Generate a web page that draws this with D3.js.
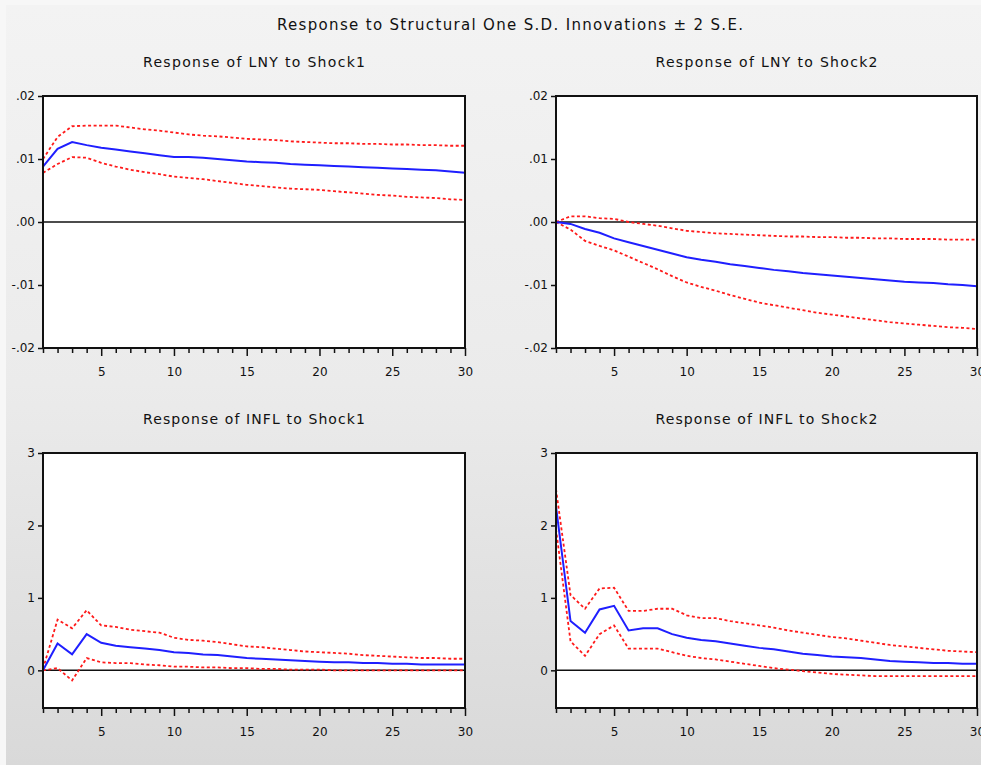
<!doctype html>
<html>
<head>
<meta charset="utf-8">
<script src="https://d3js.org/d3.v7.min.js"></script>
<style>
  body { margin: 0; background: #fff; }
  text { font-family: "DejaVu Sans", Verdana, sans-serif; fill: #111; }
</style>
</head>
<body>
<div id="chart"></div>
<script>
// periods after the shock
var periods = [1,2,3,4,5,6,7,8,9,10,11,12,13,14,15,16,17,18,19,20,21,22,23,24,25,26,27,28,29,30];

// Response of LNY to Shock1
var lnyS1 =    [.0088,.0116,.0127,.0122,.0118,.0115,.0112,.0109,.0106,.0103,.0103,.0102,.0100,.0098,.0096,.0095,.0094,.0092,.0091,.0090,.0089,.0088,.0087,.0086,.0085,.0084,.0083,.0082,.0080,.0078];
var lnyS1Hi =  [.0100,.0135,.0152,.0153,.0153,.0153,.0150,.0147,.0145,.0142,.0139,.0137,.0136,.0134,.0132,.0131,.0130,.0128,.0127,.0126,.0125,.0125,.0124,.0124,.0123,.0123,.0122,.0122,.0121,.0121];
var lnyS1Lo =  [.0078,.0092,.0103,.0102,.0094,.0088,.0083,.0079,.0076,.0072,.0070,.0068,.0065,.0062,.0059,.0057,.0055,.0053,.0052,.0051,.0049,.0047,.0045,.0043,.0042,.0040,.0039,.0038,.0036,.0035];

// Response of LNY to Shock2
var lnyS2 =    [0,-.0003,-.0011,-.0017,-.0026,-.0032,-.0038,-.0044,-.0050,-.0056,-.0060,-.0063,-.0067,-.0070,-.0073,-.0076,-.0078,-.0081,-.0083,-.0085,-.0087,-.0089,-.0091,-.0093,-.0095,-.0096,-.0097,-.0099,-.0100,-.0102];
var lnyS2Hi =  [0,.0009,.0009,.0006,.0005,.0000,-.0003,-.0006,-.0010,-.0014,-.0016,-.0018,-.0019,-.0020,-.0021,-.0022,-.0023,-.0023,-.0024,-.0024,-.0025,-.0025,-.0026,-.0026,-.0027,-.0027,-.0027,-.0028,-.0028,-.0028];
var lnyS2Lo =  [0,-.0012,-.0030,-.0038,-.0045,-.0055,-.0065,-.0075,-.0086,-.0096,-.0103,-.0109,-.0116,-.0122,-.0128,-.0132,-.0136,-.0140,-.0144,-.0147,-.0150,-.0153,-.0156,-.0159,-.0161,-.0163,-.0165,-.0167,-.0168,-.0170];

// Response of INFL to Shock1
var inflS1 =   [0,.37,.22,.50,.38,.34,.32,.30,.28,.25,.24,.22,.21,.19,.17,.16,.15,.14,.13,.12,.11,.11,.10,.10,.09,.09,.08,.08,.08,.08];
var inflS1Hi = [.02,.70,.58,.83,.62,.60,.56,.54,.52,.45,.42,.41,.39,.36,.33,.32,.30,.28,.26,.25,.24,.23,.21,.20,.19,.18,.17,.17,.16,.16];
var inflS1Lo = [0,.03,-.14,.17,.11,.10,.10,.08,.07,.05,.05,.04,.04,.03,.03,.02,.02,.01,.01,.01,0,0,0,0,0,0,0,0,0,0];

// Response of INFL to Shock2
var inflS2 =   [2.26,.68,.52,.84,.89,.55,.58,.58,.50,.45,.42,.40,.37,.34,.31,.29,.26,.23,.21,.19,.18,.17,.15,.13,.12,.11,.10,.10,.09,.09];
var inflS2Hi = [2.50,1.04,.85,1.13,1.14,.82,.82,.85,.85,.76,.72,.72,.68,.65,.62,.59,.55,.52,.49,.46,.44,.41,.38,.35,.33,.31,.29,.27,.26,.25];
var inflS2Lo = [1.95,.40,.20,.50,.62,.30,.30,.30,.25,.20,.17,.15,.12,.09,.06,.03,.01,-.01,-.03,-.05,-.06,-.07,-.08,-.08,-.08,-.08,-.08,-.08,-.08,-.08];

var lnyTicks = [.02,.01,0,-.01,-.02];
var lnyTickLabels = [".02",".01",".00","-.01","-.02"];
var inflTicks = [3,2,1,0];
var inflTickLabels = ["3","2","1","0"];
var xLabelTicks = [5,10,15,20,25,30];

var title = "Response to Structural One S.D. Innovations \u00b1 2 S.E.";

var panels = [
  {title: "Response of LNY to Shock1", mid: lnyS1, hi: lnyS1Hi, lo: lnyS1Lo, dom: [-0.02, 0.02], ticks: lnyTicks, labels: lnyTickLabels, x0: 43, x1: 465, y0: 96, y1: 348},
  {title: "Response of LNY to Shock2", mid: lnyS2, hi: lnyS2Hi, lo: lnyS2Lo, dom: [-0.02, 0.02], ticks: lnyTicks, labels: lnyTickLabels, x0: 556, x1: 977, y0: 96, y1: 348},
  {title: "Response of INFL to Shock1", mid: inflS1, hi: inflS1Hi, lo: inflS1Lo, dom: [-0.52, 3], ticks: inflTicks, labels: inflTickLabels, x0: 43, x1: 465, y0: 453, y1: 708},
  {title: "Response of INFL to Shock2", mid: inflS2, hi: inflS2Hi, lo: inflS2Lo, dom: [-0.52, 3], ticks: inflTicks, labels: inflTickLabels, x0: 556, x1: 977, y0: 453, y1: 708}
];

var W = 981, H = 765;
var svg = d3.select("#chart").append("svg")
  .attr("width", W).attr("height", H);

var defs = svg.append("defs");
var grad = defs.append("linearGradient").attr("id", "bg")
  .attr("x1", 0).attr("y1", 0).attr("x2", 0).attr("y2", 1);
grad.append("stop").attr("offset", "0%").attr("stop-color", "#f3f3f3");
grad.append("stop").attr("offset", "50%").attr("stop-color", "#ebebeb");
grad.append("stop").attr("offset", "100%").attr("stop-color", "#d9d9d9");

svg.append("rect").attr("width", W).attr("height", H).attr("fill", "#f7f7f7");
svg.append("rect").attr("x", 6).attr("y", 5).attr("width", W - 6).attr("height", H - 5).attr("fill", "url(#bg)");

svg.append("text")
  .attr("x", 277).attr("y", 30)
  .attr("textLength", 466).attr("lengthAdjust", "spacing")
  .style("font-size", "15px")
  .text(title);

panels.forEach(function(p) {
  var x = d3.scaleLinear().domain([1, 30]).range([p.x0, p.x1]);
  var y = d3.scaleLinear().domain(p.dom).range([p.y1, p.y0]);
  var g = svg.append("g");

  g.append("rect")
    .attr("x", p.x0).attr("y", p.y0)
    .attr("width", p.x1 - p.x0).attr("height", p.y1 - p.y0)
    .attr("fill", "#fff");

  // subtitle
  g.append("text")
    .attr("x", (p.x0 + p.x1) / 2 - 111).attr("y", p.y0 - 29)
    .attr("textLength", 222).attr("lengthAdjust", "spacing")
    .style("font-size", "14px")
    .text(p.title);

  // zero line
  g.append("line")
    .attr("x1", p.x0).attr("x2", p.x1)
    .attr("y1", y(0)).attr("y2", y(0))
    .attr("stroke", "#111").attr("stroke-width", 1.5);

  var line = d3.line()
    .x(function(d, i) { return x(periods[i]); })
    .y(function(d) { return y(d); });

  [p.hi, p.lo].forEach(function(band) {
    g.append("path").datum(band)
      .attr("d", line)
      .attr("fill", "none")
      .attr("stroke", "#ff1a1a")
      .attr("stroke-width", 1.8)
      .attr("stroke-dasharray", "3,2.5");
  });

  g.append("path").datum(p.mid)
    .attr("d", line)
    .attr("fill", "none")
    .attr("stroke", "#1f1fff")
    .attr("stroke-width", 2);

  // frame
  g.append("rect")
    .attr("x", p.x0).attr("y", p.y0)
    .attr("width", p.x1 - p.x0).attr("height", p.y1 - p.y0)
    .attr("fill", "none").attr("stroke", "#111").attr("stroke-width", 2);

  // y axis
  var ya = g.append("g")
    .attr("transform", "translate(" + p.x0 + ",0)")
    .call(d3.axisLeft(y).tickValues(p.ticks).tickSize(5).tickPadding(3)
      .tickFormat(function(d, i) { return p.labels[i]; }));
  ya.select(".domain").remove();
  ya.selectAll("line").attr("stroke", "#111").attr("stroke-width", 1.5);
  ya.selectAll("text").style("font-size", "12px").attr("fill", "#111")
    .attr("font-family", null);

  // x axis
  var xa = g.append("g")
    .attr("transform", "translate(0," + p.y1 + ")")
    .call(d3.axisBottom(x).tickValues(periods).tickSize(5)
      .tickFormat(function(d) { return xLabelTicks.indexOf(d) >= 0 ? d : ""; }));
  xa.select(".domain").remove();
  xa.selectAll("line").attr("stroke", "#111").attr("stroke-width", 1.5)
    .attr("y2", function(d) { return xLabelTicks.indexOf(d) >= 0 ? 8 : 5; });
  xa.selectAll("text").style("font-size", "12px").attr("fill", "#111")
    .attr("font-family", null).attr("y", 19);
});
</script>
</body>
</html>
